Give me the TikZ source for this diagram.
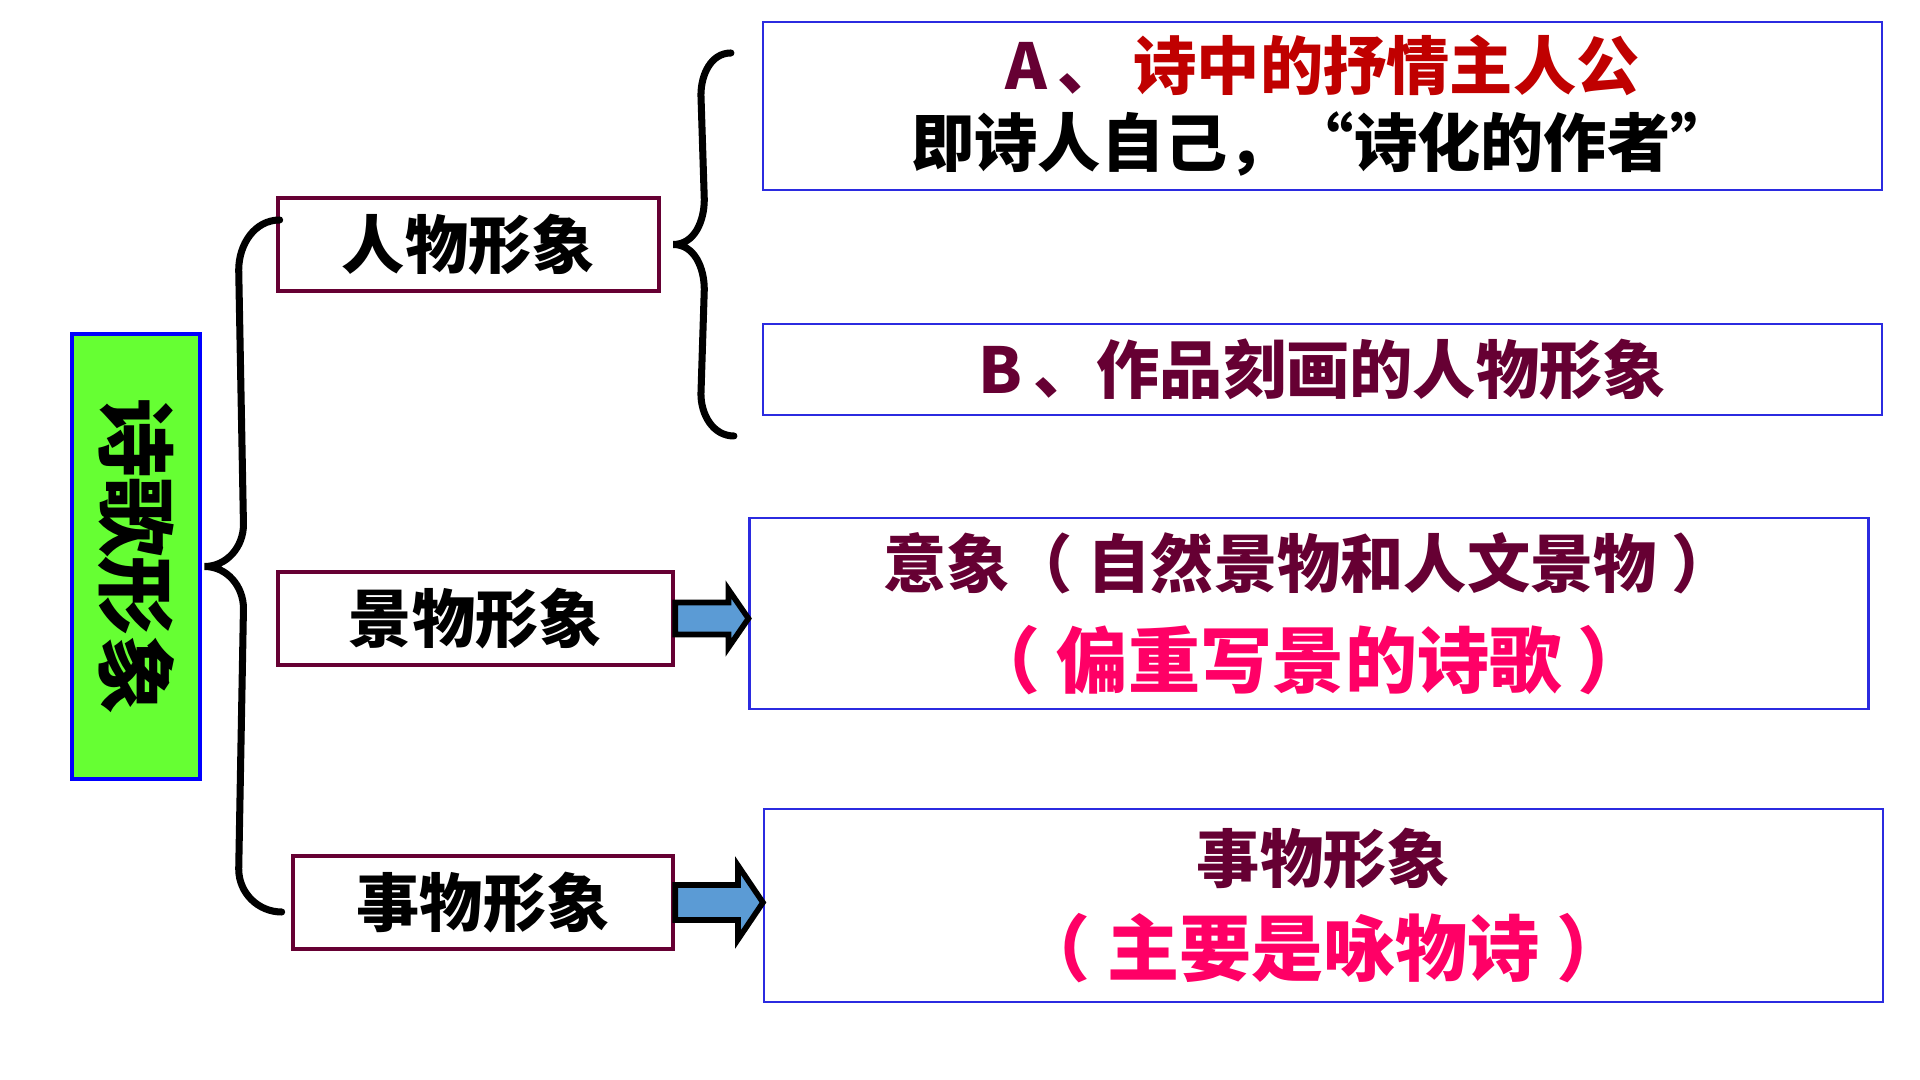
\documentclass[tikz,border=0pt]{standalone}
\usepackage{fontspec}
\newfontfamily\cjk{Noto Sans CJK SC}
\usetikzlibrary{positioning,calc}

\definecolor{wine}{HTML}{660033}
\definecolor{poemred}{HTML}{C00000}
\definecolor{rosered}{HTML}{FF0066}
\definecolor{grassgreen}{HTML}{66FF33}
\definecolor{arrowblue}{HTML}{5B9BD5}
\definecolor{frameblue}{HTML}{2B2BE0}

\begin{document}
\begin{tikzpicture}[
        every node/.style={align=center, inner sep=0pt},
        rootbox/.style={draw=blue, fill=grassgreen, line width=1.4pt,
          minimum width=1.28cm, minimum height=4.45cm,
          font=\cjk\bfseries\fontsize{22.5}{26}\selectfont},
        kindbox/.style={draw=wine, line width=1.3pt, minimum height=0.93cm,
          font=\cjk\bfseries\fontsize{18}{22}\selectfont},
        notebox/.style={draw=frameblue, line width=0.6pt, minimum width=11.19cm,
          text=wine, font=\cjk\bfseries\fontsize{18}{22}\selectfont},
        brace/.style={draw, line width=2pt, line cap=round},
        fatarrow/.style={draw, fill=arrowblue, line width=1.6pt, line join=miter}
      ]
      \fill[white] (0,0) rectangle (19.2,10.8);
      \useasboundingbox (0,0) rectangle (19.2,10.8);

      % left column
      \node[rootbox] (root) at (1.36,5.235) {\rotatebox{-90}{诗歌形象}};
      \node[kindbox, minimum width=3.81cm] (rw) at (4.685,8.355) {人物形象};
      \node[kindbox, minimum width=3.95cm] (jw) at (4.755,4.615) {景物形象};
      \node[kindbox, minimum width=3.80cm] (sw) at (4.83,1.775) {事物形象};

      % right column
      \node[notebox, minimum height=1.68cm, text=black] (ba) at (13.225,9.74)
        {{\color{wine}A\,、}\hspace{0.2em}{\color{poemred}诗中的抒情主人公}\\
         即诗人自己，“诗化的作者”};
      \node[notebox, minimum height=0.91cm] (bb) at (13.225,7.105)
        {B\,、作品刻画的人物形象};
      \node[notebox, minimum height=1.91cm,
            font=\cjk\bfseries\fontsize{18}{28.4}\selectfont] (by) at (13.09,4.665)
        {意象（ 自然景物和人文景物 ）\\
         {\color{rosered}\fontsize{20.5}{28.4}\selectfont （ 偏重写景的诗歌 ）}};
      \node[notebox, minimum height=1.93cm,
            font=\cjk\bfseries\fontsize{18}{26.7}\selectfont] (bs) at (13.235,1.745)
        {事物形象\\
         {\color{rosered}\fontsize{20.5}{26.7}\selectfont （ 主要是咏物诗 ）}};

      % braces
      \coordinate (ltop) at ($(rw.west)+(0.04,0.245)$);
      \coordinate (ltip) at ($(root.east)+(0.02,-0.1)$);
      \coordinate (lbot) at ($(sw.west)+(-0.09,-0.095)$);
      \draw[brace] (ltop) to[out=180,in=90] ++(-0.41,-0.5)
        -- ($(ltip)+(0.39,0.42)$) to[out=-90,in=0] (ltip)
        to[out=0,in=90] ($(ltip)+(0.39,-0.42)$)
        -- ($(lbot)+(-0.43,0.43)$) to[out=-90,in=180] (lbot);

      \coordinate (rtop) at ($(ba.west)+(-0.31,0.53)$);
      \coordinate (rtip) at ($(rw.east)+(0.12,0)$);
      \coordinate (rbot) at ($(bb.west)+(-0.28,-0.665)$);
      \draw[brace] (rtop) to[out=180,in=90] ++(-0.30,-0.42)
        -- ($(rtip)+(0.31,0.45)$) to[out=-90,in=0] (rtip)
        to[out=0,in=90] ($(rtip)+(0.31,-0.45)$)
        -- ($(rbot)+(-0.33,0.42)$) to[out=-90,in=180] (rbot);

      % block arrows
      \draw[fatarrow] ($(jw.east)+(0,0.16)$) -- ($(by.west |- jw.east)+(-0.2,0.16)$)
        -- ++(0,0.13) -- (by.west |- jw.east) -- ++(-0.2,-0.29) -- ++(0,0.13)
        -- ($(jw.east)+(0,-0.16)$) -- cycle;
      \draw[fatarrow] ($(sw.east)+(0,0.175)$) -- ($(bs.west |- sw.east)+(-0.25,0.175)$)
        -- ++(0,0.195) -- (bs.west |- sw.east) -- ++(-0.25,-0.37) -- ++(0,0.195)
        -- ($(sw.east)+(0,-0.175)$) -- cycle;

      \end{tikzpicture}
\end{document}
